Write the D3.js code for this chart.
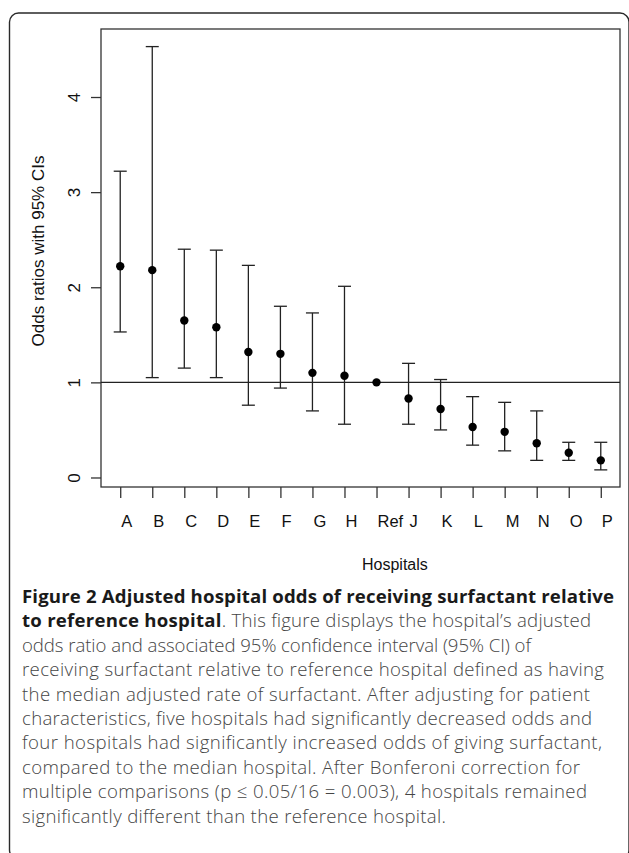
<!DOCTYPE html>
<html>
<head>
<meta charset="utf-8">
<script src="https://cdn.jsdelivr.net/npm/d3@7"></script>
<style>
  html, body { margin: 0; padding: 0; background: #fff; }
  svg { display: block; }
</style>
</head>
<body>
<svg id="chart" width="629" height="853"></svg>
<script>
// ---- data ----
const hospitals = ["A","B","C","D","E","F","G","H","Ref","J","K","L","M","N","O","P"];
const oddsRatio = [2.22, 2.18, 1.65, 1.58, 1.32, 1.30, 1.10, 1.07, 1.00, 0.83, 0.72, 0.53, 0.48, 0.36, 0.26, 0.18];
const ciLower   = [1.53, 1.05, 1.15, 1.05, 0.76, 0.94, 0.70, 0.56, 1.00, 0.56, 0.50, 0.34, 0.28, 0.18, 0.18, 0.08];
const ciUpper   = [3.22, 4.53, 2.40, 2.39, 2.23, 1.80, 1.73, 2.01, 1.00, 1.20, 1.03, 0.85, 0.79, 0.70, 0.37, 0.37];
const yTicks = [0, 1, 2, 3, 4];
const referenceValue = 1;
const xTitle = "Hospitals";
const yTitle = "Odds ratios with 95% CIs";
const captionLines = [
  [{b: true, t: "Figure 2 Adjusted hospital odds of receiving surfactant relative"}],
  [{b: true, t: "to reference hospital"}, {b: false, t: ". This figure displays the hospital\u2019s adjusted"}],
  [{b: false, t: "odds ratio and associated 95% confidence interval (95% CI) of"}],
  [{b: false, t: "receiving surfactant relative to reference hospital defined as having"}],
  [{b: false, t: "the median adjusted rate of surfactant. After adjusting for patient"}],
  [{b: false, t: "characteristics, five hospitals had significantly decreased odds and"}],
  [{b: false, t: "four hospitals had significantly increased odds of giving surfactant,"}],
  [{b: false, t: "compared to the median hospital. After Bonferoni correction for"}],
  [{b: false, t: "multiple comparisons (p \u2264 0.05/16 = 0.003), 4 hospitals remained"}],
  [{b: false, t: "significantly different than the reference hospital."}]
];
// right end of each caption line
const captionLineEnds = [614, 591, 531, 604, 590, 592, 602, 580, 587, 446];

// ---- layout ----
const svg = d3.select("#chart");
const plot = {left: 101, right: 620, top: 29, bottom: 487};
const fontChart = "'Liberation Sans', Arial, Helvetica, sans-serif";
const fontCaption = "'Open Sans', 'Noto Sans', sans-serif";

// outer frame
svg.append("rect")
  .attr("x", 9.5).attr("y", 13)
  .attr("width", 619.5).attr("height", 846)
  .attr("rx", 9).attr("ry", 9)
  .attr("fill", "none").attr("stroke", "#2a2a2a").attr("stroke-width", 1.4);

const idx = hospitals.map((d, i) => i);
const x = d3.scaleLinear().domain([-0.6, hospitals.length - 1 + 0.6]).range([plot.left, plot.right]);
const y = d3.scaleLinear().domain([-0.1, 4.715]).range([plot.bottom, plot.top]);

const g = svg.append("g");

// plot box
g.append("rect")
  .attr("x", plot.left).attr("y", plot.top)
  .attr("width", plot.right - plot.left).attr("height", plot.bottom - plot.top)
  .attr("fill", "none").attr("stroke", "#333").attr("stroke-width", 1.3);

// y axis
const yAxis = d3.axisLeft(y).tickValues(yTicks).tickSize(10).tickFormat(d3.format("d"));
const ya = g.append("g").attr("transform", `translate(${plot.left},0)`).call(yAxis);
ya.select(".domain").remove();
ya.selectAll(".tick line").attr("stroke", "#333").attr("stroke-width", 1.3);
ya.selectAll(".tick text")
  .attr("font-family", fontChart).attr("font-size", 17).attr("fill", "#111")
  .attr("x", null).attr("dy", null)
  .attr("text-anchor", "middle")
  .attr("transform", "translate(-21,0) rotate(-90)");

// x axis
const xAxis = d3.axisBottom(x).tickValues(idx).tickSize(11).tickFormat(i => hospitals[i]);
const xa = g.append("g").attr("transform", `translate(0,${plot.bottom})`).call(xAxis);
xa.select(".domain").remove();
xa.selectAll(".tick line").attr("stroke", "#333").attr("stroke-width", 1.3);
xa.selectAll(".tick text")
  .attr("font-family", fontChart).attr("font-size", 16.5).attr("fill", "#111")
  .attr("text-anchor", "start").attr("x", 0.5).attr("dy", null).attr("y", 40);

// axis titles
g.append("text")
  .attr("x", 362).attr("y", 570)
  .attr("font-family", fontChart).attr("font-size", 16).attr("fill", "#111")
  .text(xTitle);
g.append("text")
  .attr("transform", `translate(44,251) rotate(-90)`)
  .attr("text-anchor", "middle")
  .attr("font-family", fontChart).attr("font-size", 17).attr("fill", "#111")
  .text(yTitle);

// reference line
g.append("line")
  .attr("x1", plot.left).attr("x2", plot.right)
  .attr("y1", y(referenceValue)).attr("y2", y(referenceValue))
  .attr("stroke", "#222").attr("stroke-width", 1.3);

// error bars
const capHalf = 6.5;
const bars = g.append("g").attr("stroke", "#222").attr("stroke-width", 1.3).attr("fill", "none");
idx.filter(i => ciUpper[i] > ciLower[i]).forEach(i => {
  const cx = x(i);
  bars.append("line").attr("x1", cx).attr("x2", cx).attr("y1", y(ciLower[i])).attr("y2", y(ciUpper[i]));
  bars.append("line").attr("x1", cx - capHalf).attr("x2", cx + capHalf).attr("y1", y(ciLower[i])).attr("y2", y(ciLower[i]));
  bars.append("line").attr("x1", cx - capHalf).attr("x2", cx + capHalf).attr("y1", y(ciUpper[i])).attr("y2", y(ciUpper[i]));
});

// points
g.append("g").selectAll("circle").data(idx).join("circle")
  .attr("cx", i => x(i)).attr("cy", i => y(oddsRatio[i]))
  .attr("r", 4.2).attr("fill", "#000");

// caption
const cap = svg.append("g");
const capLeft = 22;
captionLines.forEach((parts, li) => {
  const t = cap.append("text")
    .attr("x", capLeft).attr("y", 603 + li * 24.4)
    .attr("font-family", fontCaption).attr("font-size", 18.6)
    .attr("textLength", captionLineEnds[li] - capLeft)
    .attr("lengthAdjust", "spacing");
  parts.forEach(p => {
    t.append("tspan")
      .attr("font-weight", p.b ? 700 : 300)
      .attr("fill", p.b ? "#1a1a1a" : "#454545")
      .text(p.t);
  });
});
</script>
</body>
</html>
